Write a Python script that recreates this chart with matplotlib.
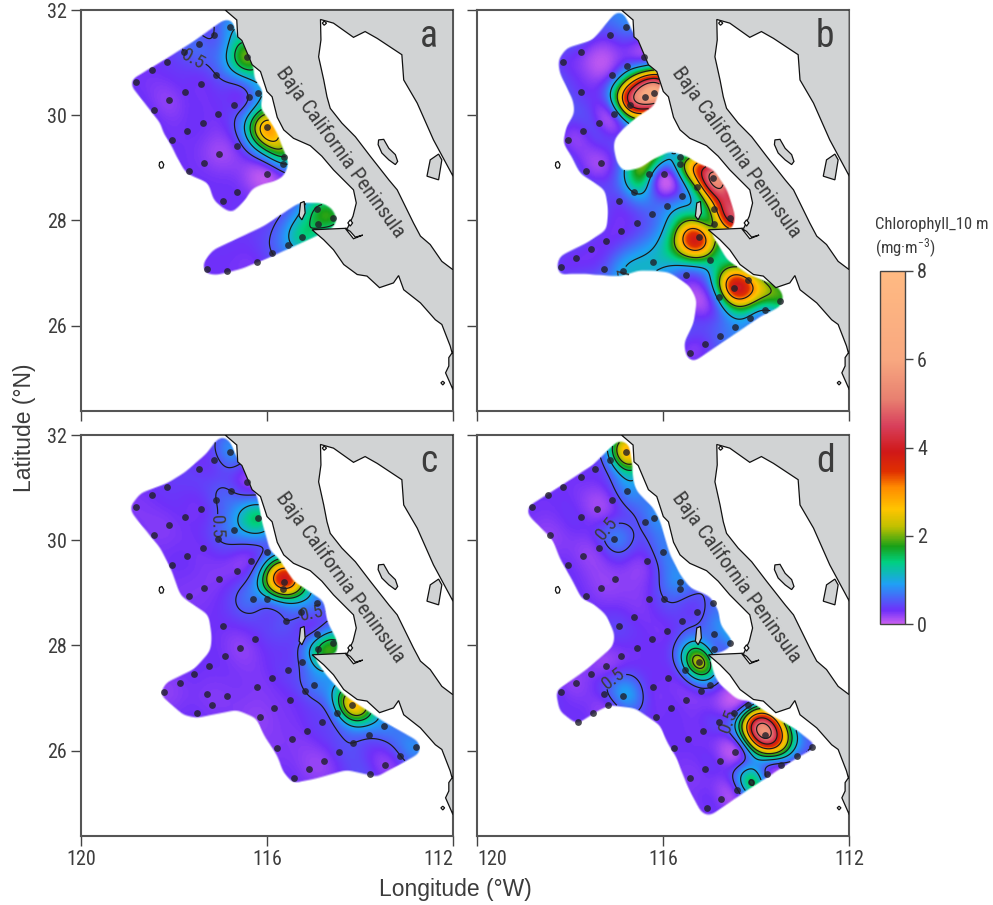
import numpy as np
import matplotlib
matplotlib.use("Agg")
import matplotlib.pyplot as plt
from matplotlib import font_manager
from matplotlib.colors import LinearSegmentedColormap, Normalize
from matplotlib.patches import Polygon
from matplotlib.path import Path
from matplotlib.cm import ScalarMappable

nan = float("nan")
installed = {f.name for f in font_manager.fontManager.ttflist}
NARROW = [n for n in ["Liberation Sans Narrow","Roboto Condensed","Roboto","DejaVu Sans"] if n in installed]
plt.rcParams["font.family"] = NARROW
plt.rcParams["mathtext.default"] = "regular"
TXT = "#3c3c3c"

station_lon = [116.80,117.14,117.46,117.78,118.16,118.48,118.82,116.42,116.77,117.10,117.43,117.77,118.10,118.44,
 116.20,116.39,116.72,117.05,117.38,117.72,118.04,116.01,116.35,116.64,117.03,117.35,117.67,115.64,115.65,115.99,
 116.31,116.64,116.95,114.93,115.27,115.59,115.93,116.25,116.57,116.91,117.24,117.56,117.88,118.21,114.92,114.57,
 114.91,115.24,115.54,115.89,116.22,116.86,117.28,117.18,117.51,117.83,114.99,115.19,115.51,115.84,116.16,114.17,
 114.49,114.81,115.14,115.46,115.78,113.49,113.81,114.14,114.46,114.77,115.10,115.42,112.80,113.13,113.46,113.78,
 114.11,114.42,114.75,115.07]
station_lat = [31.68,31.52,31.36,31.20,31.01,30.85,30.64,31.11,30.94,30.77,30.60,30.44,30.28,30.10,
 30.42,30.35,30.19,30.02,29.85,29.69,29.53,29.77,29.61,29.42,29.27,29.09,28.94,29.20,29.08,28.89,
 28.89,28.53,28.36,28.80,28.63,28.46,28.28,28.12,27.95,27.79,27.61,27.45,27.28,27.12,28.21,28.04,
 27.93,27.69,27.53,27.37,27.20,27.04,27.08,26.87,26.71,26.55,27.24,27.14,26.97,26.80,26.63,26.87,
 26.72,26.54,26.38,26.22,26.05,26.47,26.30,26.14,25.97,25.80,25.64,25.47,26.06,25.90,25.73,25.56,
 25.40,25.24,25.08,24.90]

chl_a = [.9,.5,.6,.5,.35,.3,.3,2.0,nan,.5,.3,.3,.2,.3,
 .9,.5,.35,.3,.3,.3,.3,2.9,nan,.35,.15,.25,.3,1.5,1.0,.1,
 nan,.3,.3,nan,nan,nan,nan,nan,nan,nan,nan,nan,nan,nan,1.6,1.7,
 1.6,1.4,.9,.5,.3,.3,.3,nan,nan,nan,nan,nan,nan,nan,nan,nan,
 nan,nan,nan,nan,nan,nan,nan,nan,nan,nan,nan,nan,nan,nan,nan,nan,
 nan,nan,nan,nan]
chl_b = [.7,.4,nan,.3,.35,nan,nan,.25,.6,.4,nan,.35,nan,nan,
 6.5,6.0,4.0,.5,.3,.3,.25,nan,nan,nan,nan,.15,.3,1.2,1.6,.15,
 1.4,1.0,.4,5.5,2.2,.7,.7,.6,.4,.3,.3,.3,.3,.35,2.6,4.4,
 2.0,3.7,nan,nan,1.1,1.0,.5,nan,nan,nan,1.5,nan,.5,nan,nan,3.0,
 3.9,1.2,nan,nan,nan,1.7,1.0,.9,.8,.6,.35,.25,nan,nan,nan,nan,
 nan,nan,nan,nan]
chl_c = [.8,.4,.35,nan,.35,.3,.25,.2,.5,.5,.3,.3,.25,.25,
 1.5,nan,.8,.5,.3,.3,.3,.6,.3,.25,.25,.25,.25,3.9,2.9,.9,
 .7,nan,.3,.7,.6,.5,nan,.3,.2,.28,.3,.3,.25,.2,.7,1.7,
 1.5,.6,.4,.3,.25,.25,.25,.25,.3,nan,.7,.5,.3,.25,.2,2.7,
 1.0,.4,.3,.25,.25,.8,.6,.5,.4,.2,.2,.3,.8,.5,.2,.4,
 nan,nan,nan,nan]
chl_d = [2.8,1.0,.35,.3,.3,.3,.3,nan,.8,.3,.15,.3,nan,.2,
 .8,.6,nan,.7,.3,.2,.3,.7,.3,nan,.2,.2,.3,.8,.7,.5,
 .3,.3,.4,.6,.4,.4,.3,.3,.3,.25,.2,.25,.2,.3,.7,.8,
 .7,2.3,.9,.3,.3,.9,.4,.3,.25,.3,.6,.4,.25,.3,.3,.7,
 .4,.4,.3,.3,.3,nan,5.5,nan,.1,.25,.3,.25,.5,.6,.4,.4,
 1.6,.4,.2,.3]

# additional field readings between stations: (lon, lat, chlorophyll)
extra_a = [(115.78,29.53,2.5)]
extra_b = [(117.36,31.05,.05),(115.35,26.49,.1),(115.71,27.38,1.8),(113.92,26.62,2.4),
           (115.14,28.90,4.2),(114.64,28.33,4.5),(116.50,30.67,3.5),(116.57,30.04,3.0),
           (116.72,28.96,1.4),(116.07,29.22,1.5),(115.50,29.15,2.0)]
extra_c = []
extra_d = [(114.06,26.62,3.5),(113.49,26.05,2.5)]

region_a = [[(116.93,31.81),(116.75,31.82),(116.65,31.49),(116.54,31.42),(116.30,30.96),(116.27,30.67),(116.09,30.48),
 (116.14,30.10),(116.00,29.97),(115.78,29.66),(115.68,29.41),(115.53,29.09),(115.64,28.84),(115.86,28.74),(116.07,28.70),
 (116.32,28.61),(116.47,28.39),(116.75,28.15),(116.93,28.23),(117.15,28.39),(117.25,28.71),(117.58,28.84),(117.76,28.93),
 (117.94,29.22),(118.04,29.41),(118.22,29.66),(118.29,29.85),(118.90,30.54),(118.92,30.67),(118.15,31.08),(117.58,31.40)],
 [(115.32,28.33),(114.85,28.34),(114.60,28.23),(114.49,28.01),(114.60,27.85),(115.35,27.54),(116.00,27.28),(116.57,27.08),
 (117.08,26.97),(117.33,27.00),(117.38,27.19),(117.15,27.44),(116.07,27.89)]]
region_b = [[(117.04,31.94),(116.86,31.95),(116.65,31.56),(116.50,31.37),(116.32,31.11),(116.29,30.92),(116.14,30.83),(116.04,30.67),
 (116.14,30.35),(116.18,30.20),(116.57,29.97),(116.86,29.75),(117.04,29.56),(117.08,29.41),(117.00,29.09),(116.86,28.93),
 (116.50,28.99),(116.25,29.15),(115.86,29.31),(115.50,29.22),(115.28,29.09),(114.92,28.96),(114.64,28.58),(114.46,28.08),
 (114.53,27.82),(115.03,27.82),(114.85,27.57),(114.64,27.25),(114.17,26.97),(113.56,26.75),(113.42,26.56),(113.49,26.37),
 (113.92,26.18),(115.35,25.32),(115.50,25.39),(115.56,25.67),(115.35,26.05),(115.28,26.49),(115.43,26.75),(115.78,26.97),
 (115.93,27.03),(116.50,27.06),(116.93,26.94),(117.86,27.00),(118.22,26.97),(118.29,27.13),(118.22,27.32),(117.65,27.57),
 (117.22,27.82),(117.18,28.20),(117.25,28.58),(117.51,28.74),(117.79,28.90),(117.97,29.22),(118.15,29.47),(118.08,29.78),
 (117.90,30.04),(117.94,30.29),(118.22,30.80),(118.26,31.05),(118.08,31.27),(117.51,31.43)]]
region_c = [[(117.08,31.91),(116.93,31.97),(116.79,31.87),(116.65,31.56),(116.54,31.42),(116.30,30.96),(116.22,30.86),(116.11,30.35),
 (115.93,29.78),(115.78,29.69),(115.43,29.22),(114.78,28.84),(114.71,28.46),(114.49,28.08),(114.49,27.82),(115.03,27.82),
 (114.71,27.41),(114.35,27.06),(113.56,26.59),(112.74,26.18),(112.70,25.96),(113.63,25.51),(114.28,25.64),(114.92,25.48),
 (115.43,25.39),(115.64,25.58),(115.78,25.92),(116.07,26.30),(116.22,26.62),(116.65,26.78),(117.51,26.63),(117.79,26.68),
 (118.29,27.06),(118.19,27.28),(117.58,27.54),(117.22,27.89),(117.18,28.14),(117.25,28.58),(117.68,28.84),(117.86,28.96),
 (118.04,29.41),(118.29,29.85),(118.90,30.51),(118.94,30.64),(118.72,30.89),(118.15,31.08),(117.79,31.27),(117.29,31.65)]]
region_d = [[(117.18,31.72),(116.97,31.89),(116.75,31.84),(116.68,31.49),(116.65,31.11),(116.57,30.92),(116.22,30.61),(116.07,30.35),
 (115.86,29.72),(115.64,29.34),(115.43,29.09),(115.00,28.93),(114.82,28.65),(114.78,28.39),(114.49,28.04),(114.71,27.89),
 (115.03,27.82),(114.89,27.38),(114.78,27.25),(114.42,26.97),(114.14,26.94),(113.71,26.68),(113.20,26.43),(112.70,26.08),
 (113.20,25.83),(114.14,25.29),(115.00,24.77),(115.18,24.82),(115.43,25.23),(115.61,25.61),(115.71,25.86),(115.93,26.18),
 (116.07,26.49),(116.61,26.81),(117.15,26.87),(117.43,26.75),(117.86,26.51),(118.22,26.75),(118.31,27.13),(117.65,27.54),
 (117.08,27.98),(117.04,28.20),(117.22,28.58),(117.51,28.80),(117.76,28.90),(117.94,29.22),(118.22,29.66),(118.37,30.01),
 (118.90,30.48),(118.90,30.64),(118.22,31.02),(117.51,31.43)]]

land_lon = [116.90,116.65,116.63,116.54,116.32,116.14,116.00,115.89,115.78,115.64,115.43,115.07,114.82,114.57,114.14,114.08,114.15,114.27,
 115.03,114.78,114.57,114.35,114.06,113.85,113.58,113.28,113.17,113.06,112.70,112.38,112.24,112.06,112.02,112.09,112.09,112.16,112.00,
 112.00,112.24,112.49,112.70,112.85,113.20,113.38,113.78,114.10,114.39,114.64,114.71,114.78,114.89,114.84,114.85,
 114.57,114.14,113.89,113.63,113.10,113.06,112.77,112.42,112.00,112.00]
land_lat = [32.00,31.81,31.49,31.42,30.96,30.83,30.45,30.35,29.96,29.72,29.56,29.42,29.22,28.96,28.58,28.33,28.08,27.85,
 27.82,27.63,27.44,27.16,26.97,26.94,26.72,26.81,26.95,26.68,26.43,26.11,26.02,25.61,25.48,25.39,25.23,25.10,24.78,
 27.06,27.22,27.54,27.70,27.95,28.58,28.77,29.22,29.59,29.85,30.13,30.35,30.67,31.11,31.43,31.82,
 31.75,31.48,31.59,31.46,31.15,30.67,30.23,29.53,28.84,32.00]
grey_islands = [[(113.60,29.53),(113.49,29.54),(113.38,29.37),(113.24,29.25),(113.19,29.12),(113.24,29.06),(113.38,29.15),(113.53,29.28),(113.61,29.44)],
 [(112.56,28.84),(112.49,29.15),(112.31,29.26),(112.24,29.15),(112.31,28.77)],
 [(115.28,28.33),(115.20,28.36),(115.18,28.14),(115.25,28.01),(115.31,28.08)]]
white_features = [[(118.32,29.04),(118.31,29.10),(118.26,29.12),(118.22,29.06),(118.24,29.00),(118.29,28.99)],
 [(112.26,24.91),(112.22,24.94),(112.18,24.91),(112.22,24.87)],
 [(114.81,31.75),(114.77,31.79),(114.72,31.75),(114.77,31.71)],
 [(114.26,27.95),(114.21,28.01),(114.16,27.95),(114.21,27.89)],
 [(114.32,27.85),(114.14,27.65),(113.94,27.72),(114.10,27.68),(114.21,27.79)]]

colour_stops = [(0,"#c95ff0"),(.3,"#6f30fa"),(.9,"#1fa0f5"),(1.4,"#00d080"),(1.75,"#18a018"),(2.2,"#c0c000"),(2.6,"#ffc400"),
 (3.1,"#ff8a00"),(3.45,"#e03000"),(3.9,"#d01818"),(4.5,"#d8405c"),(5.1,"#e88070"),(6.0,"#f8a880"),(8,"#ffba82")]
cont_levels_a = [.5,1,1.5,2,2.5]
cont_levels_b = [1,2,3,4,5]
cont_levels_c = [.5,1,1.5,2,3]
cont_levels_d = [.5,1,1.5,2,3,4,5]
labels_a = [(.5,117.51,31.21),(1,116.47,30.92),(2,116.22,29.75),(1.5,115.93,29.22)]
labels_b = [(5,116.47,30.58),(2,115.89,27.76),(3,115.39,27.54),(3,114.39,26.56),(2,113.81,26.72),(1,117.08,27.06)]
labels_c = [(.5,117.25,30.26),(1,116.30,30.64),(.5,115.00,28.46),(1.5,116.07,29.12),(2,115.39,29.08),(2,114.04,26.75),(1,114.83,27.16)]
labels_d = [(.5,117.22,30.23),(.5,116.93,27.19),(1,116.97,31.40),(.5,114.53,26.53),(3,113.89,26.75),(5,113.99,26.43),(2,113.46,26.18),(1.5,113.85,25.83),(2,115.32,27.82),(3,115.03,27.51)]
letters = ["a","b","c","d"]
lon_ticks = [120,116,112]
lat_ticks = [26,28,30,32]
cbar_ticks = [0,2,4,6,8]

vmax = 8
cmap = LinearSegmentedColormap.from_list("chl",[(v/vmax,c) for v,c in colour_stops],N=512)
norm = Normalize(0,vmax)
W,H = 993,905
fig = plt.figure(figsize=(W/100,H/100),dpi=100)
POWER = .75

def field(vals,extra,LON,LAT,sigma=.30):
    vals = np.array(vals,float)
    ok = ~np.isnan(vals)
    x = np.r_[np.array(station_lon)[ok],[e[0] for e in extra]]*.88
    y = np.r_[np.array(station_lat)[ok],[e[1] for e in extra]]
    v = np.r_[vals[ok],[e[2] for e in extra]]**POWER
    m = np.median(v)
    K = np.exp(-((x[:,None]-x[None,:])**2+(y[:,None]-y[None,:])**2)/(2*sigma**2))
    w = np.linalg.solve(K+2e-2*np.eye(len(x)),v-m)
    d2 = (LON[...,None]*.88-x)**2+(LAT[...,None]-y)**2
    Z = m+(np.exp(-d2/(2*sigma**2))*w).sum(-1)
    return np.clip(Z,0,None)**(1/POWER)

glon,glat = np.meshgrid(np.arange(112,120.01,.02),np.arange(24.3,32.01,.02))
gpts = np.c_[glon.ravel(),glat.ravel()]

def soft_mask(region):
    inside = np.zeros(glon.shape,float)
    for poly in region:
        inside = np.maximum(inside,Path(poly).contains_points(gpts).reshape(glon.shape).astype(float))
    n = 4
    kern = np.exp(-.5*(np.arange(-2*n,2*n+1)/n)**2); kern /= kern.sum()
    out = np.apply_along_axis(lambda a: np.convolve(a,kern,mode="same"),0,inside)
    out = np.apply_along_axis(lambda a: np.convolve(a,kern,mode="same"),1,out)
    return out

def panel(rect,letter,vals,extra,region,levels,labels,xlab,ylab,xha=None):
    l,t,r,b = rect
    ax = fig.add_axes([l/W,1-b/H,(r-l)/W,(b-t)/H])
    Z = field(vals,extra,glon,glat)
    m = soft_mask(region)
    rgba = cmap(norm(Z))
    rgba[...,3] = np.clip((m-.38)/.2,0,1)
    ax.imshow(rgba,extent=[111.99,120.01,24.29,32.01],origin="lower",aspect="auto",interpolation="bilinear",zorder=1)
    ax.set_xlim(120,112); ax.set_ylim(24.38,32)
    Zm = np.ma.masked_where(m<.48,Z)
    cs = ax.contour(glon,glat,Zm,levels=levels,colors="#1a1a1a",linewidths=.85,zorder=2)
    for lev,xx,yy in labels:
        try:
            ax.clabel(cs,levels=[lev],manual=[(xx,yy)],fmt="%g",fontsize=14,colors=TXT,inline=True,inline_spacing=1)
        except Exception:
            pass
    ax.add_patch(Polygon(np.c_[land_lon,land_lat],closed=True,fc="#d1d3d4",ec="#111111",lw=.9,zorder=3))
    for isl in grey_islands:
        ax.add_patch(Polygon(isl,closed=True,fc="#d1d3d4",ec="#111111",lw=.9,zorder=4))
    for isl in white_features:
        ax.add_patch(Polygon(isl,closed=True,fc="white",ec="#111111",lw=.9,zorder=4))
    vv = np.array(vals,float)
    ok = ~np.isnan(vv)
    ax.scatter(np.array(station_lon)[ok],np.array(station_lat)[ok],s=24,c="#20202a",alpha=.8,lw=0,zorder=5)
    ax.text(.935,.933,letter,transform=ax.transAxes,ha="center",va="center",fontsize=27,color=TXT,zorder=6)
    ax.text(114.42,29.30,"Baja California Peninsula",rotation=-54,rotation_mode="anchor",ha="center",va="center",fontsize=15,color=TXT,zorder=6)
    ax.set_xticks(lon_ticks); ax.set_yticks(lat_ticks)
    ax.set_xticklabels([str(t_) for t_ in lon_ticks] if xlab else [])
    ax.set_yticklabels([str(t_) for t_ in lat_ticks] if ylab else [])
    ax.tick_params(length=7,width=1,color="#444444",labelsize=14.5,labelcolor=TXT,pad=3)
    if xha:
        idx,ha = xha
        ax.get_xticklabels()[idx].set_ha(ha)
    for s in ax.spines.values():
        s.set_color("#555555"); s.set_linewidth(1.5)
    return ax

panel((81,10,453,410.7),letters[0],chl_a,extra_a,region_a,cont_levels_a,labels_a,False,True)
panel((477.3,10,849.3,410.7),letters[1],chl_b,extra_b,region_b,cont_levels_b,labels_b,False,False)
panel((81,435,453,835.7),letters[2],chl_c,extra_c,region_c,cont_levels_c,labels_c,True,True,xha=(2,"right"))
panel((477.3,435,849.3,835.7),letters[3],chl_d,extra_d,region_d,cont_levels_d,labels_d,True,False,xha=(0,"left"))

cax = fig.add_axes([879.5/W,1-624/H,25/W,353/H])
cb = fig.colorbar(ScalarMappable(norm=norm,cmap=cmap),cax=cax)
cb.set_ticks(cbar_ticks)
cb.ax.tick_params(length=6,width=1,color="#444444",labelsize=14.5,labelcolor=TXT,pad=3)
cb.outline.set_edgecolor("#444444"); cb.outline.set_linewidth(1)
fig.text(875/W,1-225/H,"Chlorophyll_10 m",fontsize=12,color=TXT,ha="left",va="center")
fig.text(875/W,1-248/H,"(mg·m$^{-3}$)",fontsize=12,color=TXT,ha="left",va="center")
fig.text(455/W,1-889/H,"Longitude (°W)",fontsize=16.5,color=TXT,ha="center",va="center",family=["Liberation Sans","DejaVu Sans"])
fig.text(24/W,1-428/H,"Latitude (°N)",fontsize=16.5,color=TXT,ha="center",va="center",rotation=90,family=["Liberation Sans","DejaVu Sans"])
fig.savefig("out.png",dpi=100,facecolor="white")
